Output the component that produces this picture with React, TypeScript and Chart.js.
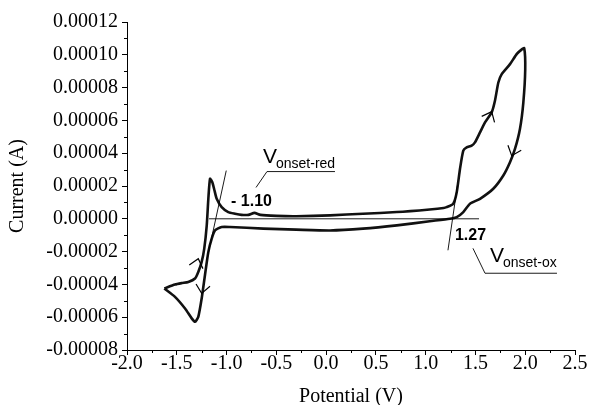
import { useEffect, useRef } from "react";
import { Chart, registerables } from "chart.js";

Chart.register(...registerables);

// ---- Cyclic voltammogram (forward scan from -1.6 V to 2.0 V, then reverse) ----
const potential = [
  -1.625, -1.518, -1.45, -1.384, -1.317, -1.284, -1.25, -1.224, -1.199, -1.183,
  -1.166, -1.143, -1.12, -1.099, -1.049, -0.983, -0.915, -0.85, -0.78, -0.72,
  -0.66, -0.5, -0.3, 0.04, 0.37, 0.71, 1.04, 1.18, 1.21, 1.277,
  1.312, 1.345, 1.378, 1.412, 1.462, 1.495, 1.546, 1.596, 1.663, 1.696,
  1.73, 1.764, 1.847, 1.914, 1.96, 1.99,
  2.0, 1.981, 1.947, 1.897, 1.847, 1.78, 1.679, 1.546, 1.445, 1.378,
  1.312, 1.244, 1.04, 0.71, 0.37, 0.04, -0.3, -0.63, -0.965, -1.049,
  -1.116, -1.149, -1.183, -1.217, -1.25, -1.284, -1.317, -1.35, -1.417, -1.518,
  -1.625,
];
const current = [
  -4.25e-5, -4.01e-5, -3.92e-5, -3.85e-5, -3.64e-5, -3.24e-5, -2.63e-5, -1.82e-5, -0.4e-5, 1.22e-5,
  2.44e-5, 2.23e-5, 1.7e-5, 1.22e-5, 0.71e-5, 0.41e-5, 0.31e-5, 0.24e-5, 0.24e-5, 0.36e-5,
  0.24e-5, 0.18e-5, 0.16e-5, 0.21e-5, 0.31e-5, 0.41e-5, 0.57e-5, 0.66e-5, 0.71e-5, 0.92e-5,
  1.62e-5, 3.05e-5, 4.16e-5, 4.36e-5, 4.46e-5, 4.66e-5, 5.27e-5, 5.88e-5, 6.49e-5, 7.2e-5,
  8.31e-5, 8.82e-5, 9.43e-5, 10.04e-5, 10.3e-5, 10.4e-5,
  9.1e-5, 7.09e-5, 5.48e-5, 4.26e-5, 3.45e-5, 2.64e-5, 1.83e-5, 1.22e-5, 0.92e-5, 0.41e-5,
  0.1e-5, 0.0, -0.15e-5, -0.4e-5, -0.6e-5, -0.71e-5, -0.66e-5, -0.6e-5, -0.5e-5, -0.5e-5,
  -0.71e-5, -1.21e-5, -2.02e-5, -3.44e-5, -4.86e-5, -5.98e-5, -6.28e-5, -6.07e-5, -5.47e-5, -4.76e-5,
  -4.25e-5,
];

// ---- Ticks ----
const xTickValues = [-2.0, -1.5, -1.0, -0.5, 0.0, 0.5, 1.0, 1.5, 2.0, 2.5];
const xMinorTicks = [-1.75, -1.25, -0.75, -0.25, 0.25, 0.75, 1.25, 1.75, 2.25];
const yTickValues = [-0.00008, -0.00006, -0.00004, -0.00002, 0, 0.00002, 0.00004, 0.00006, 0.00008, 0.0001, 0.00012];
const yMinorTicks = [-0.00007, -0.00005, -0.00003, -0.00001, 0.00001, 0.00003, 0.00005, 0.00007, 0.00009, 0.00011];

// ---- Onset construction lines (data coordinates) ----
const tangentRed = [[-1.003, 2.94e-5], [-1.199, -2.53e-5]];
const baselineSeg = [[-1.176, 0], [1.536, 0]];
const tangentOx = [[1.224, -1.92e-5], [1.319, 2.03e-5]];
const leaderRed = [[-0.704, 1.91e-5], [-0.594, 2.88e-5], [0.089, 2.88e-5]];
const leaderOx = [[1.475, -1.8e-5], [1.596, -3.32e-5], [2.319, -3.32e-5]];
// arrows: apex x, apex y, tail x, tail y
const scanArrows = [
  [-1.284, -2.43e-5, -1.307, -2.95e-5],
  [-1.25, -4.55e-5, -1.234, -3.95e-5],
  [1.663, 6.53e-5, 1.621, 5.98e-5],
  [1.864, 3.85e-5, 1.899, 4.43e-5],
];
const onsetRedLabel = { text: "- 1.10", x: -0.955, y: 0.81e-5 };
const onsetOxLabel = { text: "1.27", x: 1.294, y: -1.31e-5 };
const vRedLabel = { main: "V", sub: "onset-red", x: -0.634, y: 3.43e-5 };
const vOxLabel = { main: "V", sub: "onset-ox", x: 1.646, y: -2.65e-5 };

const SERIF = "'Liberation Serif', serif";
const SANS = "'Liberation Sans', sans-serif";

Chart.defaults.font.family = SERIF;
Chart.defaults.font.size = 20;
Chart.defaults.color = "#000";

const overlayPlugin = {
  id: "cvOverlay",
  afterDatasetsDraw(chart: any) {
    const { ctx, chartArea } = chart;
    const xs = chart.scales.x;
    const ys = chart.scales.y;
    const X = (v: number) => xs.getPixelForValue(v);
    const Y = (v: number) => ys.getPixelForValue(v);
    ctx.save();
    ctx.strokeStyle = "#000";
    ctx.fillStyle = "#000";
    ctx.lineWidth = 1;
    // minor ticks
    ctx.beginPath();
    xMinorTicks.forEach((v) => {
      const px = Math.round(X(v)) + 0.5;
      ctx.moveTo(px, chartArea.bottom);
      ctx.lineTo(px, chartArea.bottom + 3);
    });
    yMinorTicks.forEach((v) => {
      const py = Math.round(Y(v)) + 0.5;
      ctx.moveTo(chartArea.left - 3, py);
      ctx.lineTo(chartArea.left, py);
    });
    ctx.stroke();
    // construction lines
    const poly = (pts: number[][]) => {
      ctx.beginPath();
      pts.forEach(([a, b], i) => (i ? ctx.lineTo(X(a), Y(b)) : ctx.moveTo(X(a), Y(b))));
      ctx.stroke();
    };
    ctx.lineWidth = 0.9;
    [tangentRed, baselineSeg, tangentOx, leaderRed, leaderOx].forEach(poly);
    // arrows
    ctx.lineWidth = 1.2;
    scanArrows.forEach(([ax, ay, tx, ty]) => {
      const px = X(ax), py = Y(ay), qx = X(tx), qy = Y(ty);
      const ang = Math.atan2(py - qy, px - qx);
      const L = 11, h = (40 * Math.PI) / 180;
      ctx.beginPath();
      ctx.moveTo(px - L * Math.cos(ang - h), py - L * Math.sin(ang - h));
      ctx.lineTo(px, py);
      ctx.lineTo(px - L * Math.cos(ang + h), py - L * Math.sin(ang + h));
      ctx.stroke();
    });
    // labels
    ctx.textBaseline = "alphabetic";
    ctx.textAlign = "left";
    ctx.font = `bold 16px ${SANS}`;
    [onsetRedLabel, onsetOxLabel].forEach((l) => ctx.fillText(l.text, X(l.x), Y(l.y)));
    [vRedLabel, vOxLabel].forEach((l) => {
      const px = X(l.x), py = Y(l.y);
      ctx.font = `21px ${SANS}`;
      ctx.fillText(l.main, px, py);
      const w = ctx.measureText(l.main).width;
      ctx.font = `14px ${SANS}`;
      ctx.fillText(l.sub, px + w - 1, py + 5);
    });
    ctx.restore();
  },
};

export default function App() {
  const ref = useRef<HTMLCanvasElement | null>(null);
  useEffect(() => {
    if (!ref.current) return;
    const chart = new Chart(ref.current, {
      type: "scatter",
      data: {
        datasets: [
          {
            data: potential.map((p, i) => ({ x: p, y: current[i] })),
            showLine: true,
            borderColor: "#111",
            borderWidth: 2.6,
            pointRadius: 0,
            tension: 0.2,
            fill: false,
          },
        ],
      },
      options: {
        animation: false,
        responsive: false,
        devicePixelRatio: 1,
        layout: { padding: { left: 0, right: 15, top: 22, bottom: 0 } },
        plugins: { legend: { display: false }, tooltip: { enabled: false } },
        scales: {
          x: {
            type: "linear",
            position: "bottom",
            min: -2,
            max: 2.5,
            afterBuildTicks: (s: any) => {
              s.ticks = xTickValues.map((v) => ({ value: v }));
            },
            afterFit: (s: any) => {
              s.height = 55;
            },
            grid: { drawOnChartArea: false, drawTicks: true, tickLength: 5, tickColor: "#000", color: "#000" },
            border: { display: true, color: "#000", width: 1 },
            ticks: {
              color: "#000",
              font: { family: SERIF, size: 20 },
              padding: -3,
              maxRotation: 0,
              autoSkip: false,
              callback: (v: any) => Number(v).toFixed(1),
            },
            title: {
              display: true,
              text: "Potential (V)",
              color: "#000",
              font: { family: SERIF, size: 20 },
              padding: { top: 0, bottom: -4 },
            },
          },
          y: {
            type: "linear",
            min: -0.00008,
            max: 0.00012,
            afterBuildTicks: (s: any) => {
              s.ticks = yTickValues.map((v) => ({ value: v }));
            },
            afterFit: (s: any) => {
              s.width = 127;
            },
            grid: { drawOnChartArea: false, drawTicks: true, tickLength: 5, tickColor: "#000", color: "#000" },
            border: { display: true, color: "#000", width: 1 },
            ticks: {
              color: "#000",
              font: { family: SERIF, size: 20 },
              padding: 4,
              autoSkip: false,
              callback: (v: any) => Number(v).toFixed(5),
            },
            title: {
              display: true,
              text: "Current (A)",
              color: "#000",
              font: { family: SERIF, size: 20 },
              padding: { top: 6, bottom: 0 },
            },
          },
        },
      },
      plugins: [overlayPlugin],
    });
    return () => chart.destroy();
  }, []);
  return (
    <div style={{ position: "fixed", left: 0, top: 0, width: 590, height: 405, background: "#fff" }}>
      <canvas ref={ref} width={590} height={405} style={{ display: "block" }} />
    </div>
  );
}
